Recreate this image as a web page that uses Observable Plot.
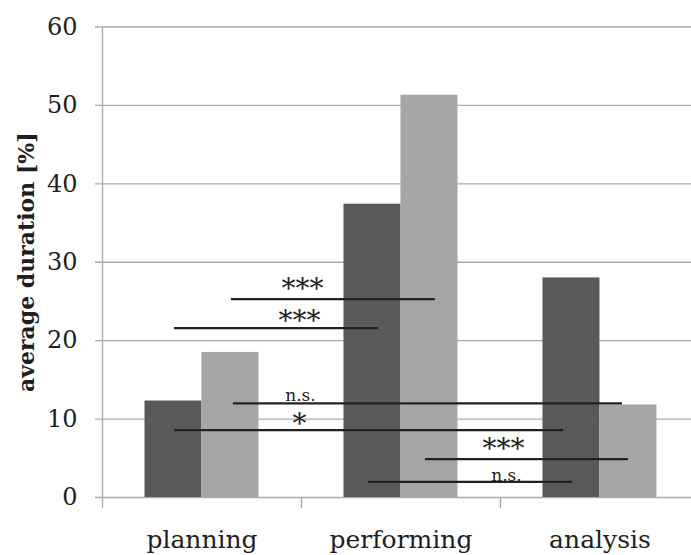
<!DOCTYPE html>
<html><head><meta charset="utf-8">
<script src="https://cdn.jsdelivr.net/npm/d3@7"></script>
<script src="https://cdn.jsdelivr.net/npm/@observablehq/plot@0.6"></script>
<style>html,body{margin:0;padding:0;background:#fff;}</style>
</head><body><div id="chart"></div>
<script>
const categories = ["planning", "performing", "analysis"];
const darkValues = [12.3, 37.4, 28.0];
const lightValues = [18.5, 51.3, 11.8];
const yTicks = [0, 10, 20, 30, 40, 50, 60];
const yTitle = "average duration [%]";
// significance brackets (x in category-index units, y in %)
const sigFrom = [0.148, -0.138, 0.158, -0.138, 1.123, 0.837];
const sigTo = [1.173, 0.887, 2.113, 1.817, 2.143, 1.862];
const sigY = [25.3, 21.6, 12.0, 8.6, 4.9, 2.0];
const sigLabel = ["***", "***", "n.s.", "*", "***", "n.s."];
const sigLabelX = [0.505, 0.490, 0.495, 0.490, 1.515, 1.530];
const sigLabelY = [27.1, 23.0, 12.3, 9.8, 6.6, 2.1];

const barW = 0.2864;
const bars = [];
categories.forEach((c, i) => {
  bars.push({i, c, v: darkValues[i], x1: i - barW, x2: i, s: "dark"});
  bars.push({i, c, v: lightValues[i], x1: i, x2: i + barW, s: "light"});
});
const sig = sigLabel.map((l, k) => ({from: sigFrom[k], to: sigTo[k], y: sigY[k], label: l, lx: sigLabelX[k], ly: sigLabelY[k]}));
const stars = sig.filter(d => d.label !== "n.s.");
const ns = sig.filter(d => d.label === "n.s.");

const chart = Plot.plot({
  width: 691,
  height: 555,
  marginLeft: 102,
  marginRight: 0,
  marginTop: 26.5,
  marginBottom: 58,
  style: {fontFamily: "'DejaVu Serif', serif", fontSize: "24px", color: "#1e1e1e", background: "#fff"},
  x: {type: "linear", domain: [-0.5, 2.46]},
  y: {domain: [0, 60]},
  color: {domain: ["dark", "light"], range: ["#595959", "#a6a6a6"]},
  marks: [
    Plot.ruleY(yTicks, {stroke: "#ababab", strokeWidth: 1.4, insetLeft: -7}),
    Plot.ruleX([-0.5], {stroke: "#ababab", strokeWidth: 1.4}),
    Plot.axisX({ticks: [-0.5, 0.5, 1.5], tickSize: 11, tickFormat: () => "", stroke: "#ababab", strokeWidth: 1.4, label: null}),
    Plot.axisX({ticks: [0, 1, 2], tickSize: 0, tickPadding: 33, tickFormat: i => categories[i], fontSize: 25, label: null}),
    Plot.axisY({ticks: yTicks, tickSize: 0, tickPadding: 25, fontSize: 24, label: null}),
    Plot.rectY(bars, {x1: "x1", x2: "x2", y1: 0, y2: "v", fill: "s"}),
    Plot.ruleY(sig, {x1: "from", x2: "to", y: "y", stroke: "#222", strokeWidth: 2.2}),
    Plot.text(stars, {x: "lx", y: "ly", text: "label", fontSize: 28, lineAnchor: "middle", dy: 3.7, fill: "#222"}),
    Plot.text(ns, {x: "lx", y: "ly", text: "label", fontSize: 17, lineAnchor: "bottom", fill: "#222"}),
    Plot.text([yTitle], {frameAnchor: "left", dx: -76, rotate: -90, fontSize: 22, fontWeight: "bold", textAnchor: "middle", lineAnchor: "middle", fill: "#1e1e1e"})
  ]
});
document.getElementById("chart").appendChild(chart);
</script>
</body></html>
